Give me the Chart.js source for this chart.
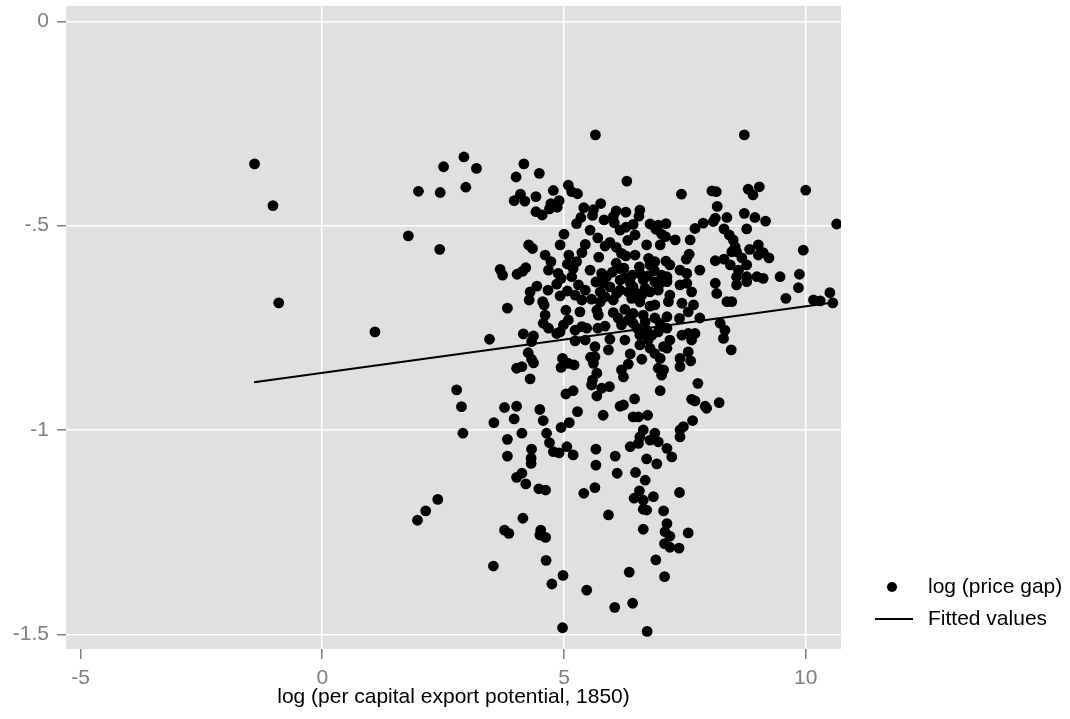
<!DOCTYPE html>
<html>
<head>
<meta charset="utf-8">
<script src="https://cdn.jsdelivr.net/npm/chart.js@4"></script>
<style>
  html, body { margin: 0; padding: 0; background: #fff; }
  #wrap { width: 1070px; height: 719px; }
</style>
</head>
<body>
<div id="wrap"><canvas id="chart" width="1070" height="719"></canvas></div>
<script>
/* ---- data: log (per capita export potential, 1850) vs log (price gap) ---- */
const exportPotential = [
  -1.40,-1.02,-0.90,1.09,1.78,2.43,1.99,2.44,2.97,2.93,
  2.51,3.19,5.65,4.17,4.49,4.01,5.09,5.16,5.28,4.78,
  4.10,3.97,4.19,4.42,4.73,4.90,4.86,4.70,4.42,4.55,
  5.76,5.41,5.61,5.59,5.35,5.26,6.08,5.83,6.04,5.00,
  4.27,4.35,5.44,5.85,5.95,6.08,5.10,5.37,5.26,5.07,
  5.19,5.72,4.73,4.68,4.88,4.94,3.68,3.73,4.21,4.14,
  4.03,6.08,5.78,6.00,8.73,6.30,7.43,8.06,8.15,8.81,
  9.04,8.91,10.00,8.17,6.28,6.55,6.02,6.43,6.28,6.78,
  6.95,7.11,6.90,7.02,7.10,7.71,7.88,8.13,8.09,8.37,
  8.73,8.95,9.17,8.78,10.64,8.31,8.42,8.50,8.54,8.47,
  8.57,6.32,6.71,6.19,6.28,6.75,6.88,7.11,6.56,6.87,
  7.59,7.53,7.54,8.13,8.31,8.84,9.02,9.02,9.12,9.24,
  9.95,8.78,8.61,8.57,8.78,8.99,9.12,9.47,9.87,6.16,
  6.57,7.02,7.13,5.88,6.16,5.95,6.09,5.85,6.02,6.64,
  6.43,6.51,6.61,6.40,7.13,6.99,7.40,7.54,7.64,8.13,
  8.16,8.57,8.78,9.85,9.59,8.37,8.47,10.16,10.30,10.50,
  10.56,7.16,7.44,7.68,7.57,7.13,7.39,6.02,6.26,6.43,
  6.64,6.78,6.33,6.43,6.19,6.99,7.13,6.95,6.71,6.82,
  6.57,6.51,8.23,8.33,8.30,8.46,7.44,7.57,7.71,7.64,
  7.19,7.06,7.13,6.57,6.78,6.88,6.99,6.61,6.37,6.33,
  7.40,7.57,7.62,7.40,6.95,7.06,7.02,6.19,6.23,7.77,
  6.99,6.46,6.23,7.64,7.71,7.92,7.95,8.21,5.81,6.43,
  6.54,6.73,7.47,7.66,6.64,6.88,6.57,7.40,4.85,5.16,
  5.30,5.44,5.75,5.57,4.30,4.28,4.56,4.59,5.07,5.04,
  3.83,4.61,4.57,4.68,4.85,4.99,5.09,4.92,5.68,5.71,
  3.46,4.16,4.37,4.33,4.26,4.33,4.37,5.23,5.37,5.47,
  5.70,5.23,5.95,5.92,5.64,5.55,5.64,5.61,4.02,4.13,
  4.30,4.97,4.94,5.09,5.21,5.68,5.59,5.57,5.78,5.94,
  5.68,2.78,2.88,2.91,3.77,4.02,3.97,3.55,4.50,4.57,
  4.64,4.13,3.83,5.04,5.19,5.28,5.11,4.94,6.16,4.70,
  4.33,4.78,4.90,5.06,5.19,3.83,4.32,4.32,5.66,6.06,
  5.66,6.10,4.13,4.02,4.21,4.48,4.62,5.41,5.64,2.39,
  2.14,1.97,5.92,4.15,3.77,3.86,4.52,4.50,4.62,4.63,
  3.54,4.98,4.75,5.47,6.05,4.97,6.78,6.95,6.54,6.37,
  7.40,7.13,7.23,6.71,6.92,6.48,6.68,6.56,6.45,6.64,
  6.85,6.64,6.71,7.39,7.06,7.13,7.09,7.19,7.57,7.08,
  7.19,7.38,6.64,6.90,6.35,7.08,6.42,6.72,
  6.26,6.37,6.16,6.33,5.81,6.68,6.78,6.88,5.23,5.37,
  4.92,6.12,6.88,6.26,6.68,7.30,7.19,7.40,6.78,6.47,
  6.16,6.47,5.70,4.67,4.44,
  5.54,5.66,6.24,6.41,6.74,6.95,7.19,5.75,6.57,6.88,
  5.85,6.74,5.44,5.33,7.81,8.68,8.44,4.92,5.54,6.57,
  6.99,7.61,4.61,6.37,7.81
];

const priceGap = [
  -0.349,-0.451,-0.689,-0.760,-0.525,-0.558,-0.416,-0.419,-0.406,-0.332,
  -0.356,-0.360,-0.278,-0.349,-0.372,-0.381,-0.401,-0.417,-0.422,-0.414,
  -0.423,-0.439,-0.440,-0.429,-0.446,-0.439,-0.455,-0.459,-0.466,-0.474,
  -0.446,-0.456,-0.461,-0.475,-0.480,-0.495,-0.464,-0.486,-0.493,-0.521,
  -0.547,-0.556,-0.546,-0.550,-0.541,-0.553,-0.572,-0.566,-0.588,-0.594,
  -0.605,-0.577,-0.588,-0.609,-0.617,-0.629,-0.607,-0.621,-0.603,-0.612,
  -0.619,-0.592,-0.617,-0.614,-0.278,-0.391,-0.423,-0.415,-0.417,-0.411,
  -0.405,-0.425,-0.413,-0.453,-0.467,-0.477,-0.478,-0.497,-0.504,-0.496,
  -0.499,-0.495,-0.509,-0.521,-0.527,-0.507,-0.494,-0.482,-0.490,-0.480,
  -0.470,-0.480,-0.489,-0.508,-0.496,-0.508,-0.523,-0.535,-0.552,-0.564,
  -0.564,-0.536,-0.547,-0.568,-0.574,-0.580,-0.588,-0.587,-0.601,-0.610,
  -0.570,-0.582,-0.617,-0.586,-0.582,-0.558,-0.547,-0.572,-0.566,-0.579,
  -0.560,-0.596,-0.609,-0.625,-0.625,-0.625,-0.629,-0.625,-0.619,-0.605,
  -0.617,-0.621,-0.625,-0.625,-0.633,-0.650,-0.666,-0.674,-0.682,-0.633,
  -0.650,-0.666,-0.670,-0.678,-0.637,-0.641,-0.645,-0.641,-0.662,-0.641,
  -0.666,-0.645,-0.637,-0.652,-0.678,-0.686,-0.686,-0.682,-0.684,-0.664,
  -0.689,-0.686,-0.690,-0.694,-0.711,-0.723,-0.727,-0.713,-0.705,-0.715,
  -0.719,-0.697,-0.731,-0.739,-0.743,-0.739,-0.751,-0.760,-0.756,-0.768,
  -0.768,-0.751,-0.739,-0.756,-0.776,-0.804,-0.768,-0.764,-0.764,-0.780,
  -0.780,-0.796,-0.800,-0.792,-0.800,-0.813,-0.825,-0.827,-0.814,-0.839,
  -0.825,-0.809,-0.831,-0.845,-0.849,-0.853,-0.866,-0.853,-0.870,-0.886,
  -0.904,-0.924,-0.939,-0.925,-0.929,-0.942,-0.947,-0.933,-0.964,-0.968,
  -0.968,-0.964,-0.992,-0.977,-1.000,-1.008,-1.017,-1.017,-0.643,-0.625,
  -0.645,-0.658,-0.662,-0.680,-0.662,-0.682,-0.686,-0.694,-0.660,-0.707,
  -0.702,-0.719,-0.739,-0.751,-0.764,-0.743,-0.731,-0.760,-0.707,-0.719,
  -0.778,-0.765,-0.770,-0.784,-0.811,-0.827,-0.836,-0.756,-0.747,-0.751,
  -0.751,-0.782,-0.778,-0.804,-0.796,-0.822,-0.821,-0.837,-0.849,-0.845,
  -0.875,-0.825,-0.847,-0.837,-0.841,-0.861,-0.878,-0.890,-0.898,-0.894,
  -0.917,-0.902,-0.943,-1.008,-0.945,-0.942,-0.973,-0.982,-0.950,-0.977,
  -1.008,-1.008,-1.023,-0.912,-0.904,-0.955,-0.982,-0.994,-0.942,-1.031,
  -1.047,-1.053,-1.056,-1.041,-1.061,-1.064,-1.069,-1.082,-1.047,-1.064,
  -1.086,-1.106,-1.106,-1.116,-1.132,-1.144,-1.147,-1.155,-1.141,-1.170,
  -1.198,-1.221,-1.208,-1.216,-1.245,-1.253,-1.245,-1.257,-1.263,-1.319,
  -1.333,-1.356,-1.377,-1.392,-1.434,-1.484,-1.025,-1.029,-1.033,-1.041,
  -1.000,-1.045,-1.066,-1.071,-1.083,-1.104,-1.123,-1.149,-1.167,-1.172,
  -1.163,-1.194,-1.196,-1.153,-1.198,-1.229,-1.249,-1.260,-1.252,-1.278,
  -1.287,-1.289,-1.243,-1.318,-1.348,-1.359,-1.424,-1.493,
  -0.628,-0.640,-0.658,-0.662,-0.640,-0.653,-0.662,-0.638,-0.670,-0.682,
  -0.672,-0.726,-0.726,-0.780,-0.736,-0.535,-0.596,-0.609,-0.596,-0.572,
  -0.511,-0.523,-0.530,-0.658,-0.648,
  -0.609,-0.638,-0.604,-0.621,-0.623,-0.658,-0.670,-0.687,-0.687,-0.694,
  -0.746,-0.780,-0.780,-0.711,-0.609,-0.579,-0.596,-0.547,-0.511,-0.462,
  -0.547,-0.535,-0.572,-0.726,-0.726
];

// fitted regression line, end points
const fitX = [-1.41, 10.46];
const fitY = [-0.883, -0.690];

const xTickValues = [-5, 0, 5, 10];
const yTickValues = [0, -0.5, -1, -1.5];
const yTickLabels = ['0', '-.5', '-1', '-1.5'];

const seriesLabels = ['log (price gap)', 'Fitted values'];
const xTitle = 'log (per capital export potential, 1850)';

/* ---- style ---- */
const FONT = "'Liberation Sans', Arial, Helvetica, sans-serif";
const PANEL_BG = '#e0e0e0';
const AXIS_GREY = '#7f7f7f';

Chart.defaults.font.family = FONT;
Chart.defaults.font.size = 21;

const scatterPoints = exportPotential.map((x, i) => ({ x, y: priceGap[i] }));
const fitPoints = fitX.map((x, i) => ({ x, y: fitY[i] }));

// grey panel behind the grid
const panelBg = {
  id: 'panelBg',
  beforeDraw(chart) {
    const { ctx, chartArea: a } = chart;
    ctx.save();
    ctx.fillStyle = PANEL_BG;
    ctx.fillRect(a.left, a.top, a.right - a.left, a.bottom - a.top);
    ctx.restore();
  }
};

// ggplot-style legend on the right
const sideLegend = {
  id: 'sideLegend',
  afterDraw(chart) {
    const ctx = chart.ctx;
    ctx.save();
    ctx.fillStyle = '#000';
    ctx.beginPath();
    ctx.arc(892, 587, 5, 0, Math.PI * 2);
    ctx.fill();
    ctx.strokeStyle = '#000';
    ctx.lineWidth = 2;
    ctx.beginPath();
    ctx.moveTo(875, 619);
    ctx.lineTo(913, 619);
    ctx.stroke();
    ctx.font = `21px ${FONT}`;
    ctx.textBaseline = 'middle';
    ctx.textAlign = 'left';
    ctx.fillText(seriesLabels[0], 928, 587);
    ctx.fillText(seriesLabels[1], 928, 619);
    ctx.restore();
  }
};

// no extra room for half tick labels, so the panel keeps its exact box
function noEdgePadding(s) {
  s.paddingTop = 0;
  s.paddingBottom = 0;
  s.paddingLeft = 0;
  s.paddingRight = 0;
}

new Chart(document.getElementById('chart'), {
  type: 'scatter',
  data: {
    datasets: [
      {
        label: seriesLabels[0],
        data: scatterPoints,
        backgroundColor: '#000',
        borderColor: '#000',
        borderWidth: 0,
        pointRadius: 5.4,
        order: 1,
      },
      {
        type: 'line',
        label: seriesLabels[1],
        data: fitPoints,
        borderColor: '#000',
        borderWidth: 2,
        pointRadius: 0,
        fill: false,
        order: 0,
      }
    ]
  },
  options: {
    responsive: false,
    animation: false,
    layout: { padding: { top: 6, right: 229, bottom: 0, left: 0 } },
    plugins: {
      legend: { display: false },
      tooltip: { enabled: false },
    },
    scales: {
      x: {
        type: 'linear',
        min: -5.3,
        max: 10.73,
        afterFit: s => { s.height = 70; noEdgePadding(s); },
        afterBuildTicks: s => { s.ticks = xTickValues.map(v => ({ value: v })); },
        border: { display: false },
        grid: {
          color: c => (c.tick && c.tick.value === -5 ? 'rgba(0,0,0,0)' : '#ffffff'),
          lineWidth: 1.5,
          tickColor: AXIS_GREY,
          tickLength: 10,
          drawTicks: true,
        },
        ticks: { color: AXIS_GREY, padding: 7, maxRotation: 0, font: { size: 21 } },
        title: {
          display: true,
          text: xTitle,
          color: '#000',
          font: { size: 21 },
          padding: { top: 0, bottom: 9 },
        },
      },
      y: {
        type: 'linear',
        min: -1.536,
        max: 0.0374,
        afterFit: s => { s.width = 66; noEdgePadding(s); },
        afterBuildTicks: s => { s.ticks = yTickValues.map(v => ({ value: v })); },
        border: { display: false },
        grid: {
          color: '#ffffff',
          lineWidth: 1.5,
          tickColor: AXIS_GREY,
          tickLength: 9,
          drawTicks: true,
        },
        ticks: {
          color: AXIS_GREY,
          padding: 8,
          font: { size: 21 },
          callback: v => yTickLabels[yTickValues.indexOf(v)],
        },
      },
    },
  },
  plugins: [panelBg, sideLegend],
});
</script>
</body>
</html>
